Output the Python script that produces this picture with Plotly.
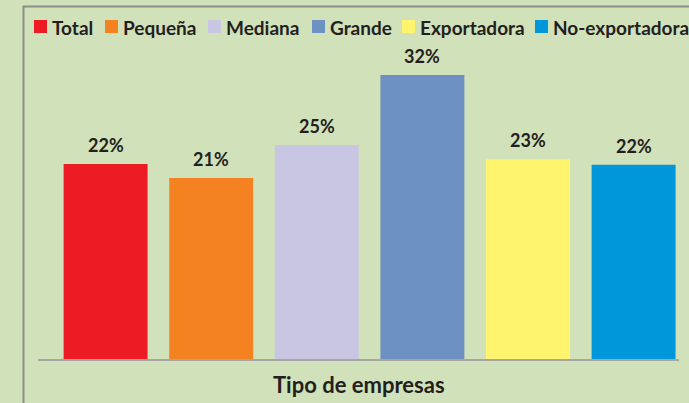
import plotly.graph_objects as go

categories = ["Total", "Pequeña", "Mediana", "Grande", "Exportadora", "No-exportadora"]
values = [21.97, 20.4, 24.1, 32.0, 22.5, 21.9]
value_labels = ["22%", "21%", "25%", "32%", "23%", "22%"]
colors = ["#ED1C24", "#F58220", "#C8C6E2", "#6E91C4", "#FEF46E", "#0096DA"]
x_title = "Tipo de empresas"

W, H = 689, 403
ML, MR, MT, MB = 38, 10, 48, 44
PW, PH = W - ML - MR, H - MT - MB

def px(x):
    return (x - ML) / PW

def py(y):
    return (H - MB - y) / PH

FONT = "Lato"
TXT = "#231F20"

fig = go.Figure()
fig.add_trace(go.Bar(
    x=categories, y=values, marker=dict(color=colors, line=dict(width=0)),
    width=0.795, showlegend=False, hoverinfo="skip",
))

annotations = []
for c, v, t in zip(categories, values, value_labels):
    annotations.append(dict(
        x=c, y=v, xref="x", yref="y", text=t, showarrow=False,
        yanchor="bottom", yshift=6,
        font=dict(family=FONT, size=18, color=TXT, weight="bold"),
    ))

# manual legend (single row, as in the reference)
sq_x = [34, 105, 208, 312, 402, 535]
shapes = []
for c, col, x0 in zip(categories, colors, sq_x):
    shapes.append(dict(type="rect", xref="paper", yref="paper",
                       x0=px(x0), x1=px(x0 + 13), y0=py(33), y1=py(20),
                       fillcolor=col, line=dict(width=0)))
    annotations.append(dict(
        x=px(x0 + 16), y=py(27), xref="paper", yref="paper", text=c,
        showarrow=False, xanchor="left", yanchor="middle",
        font=dict(family=FONT, size=19, color=TXT, weight="bold"),
    ))

# outer frame (cropped box)
shapes.append(dict(type="rect", xref="paper", yref="paper",
                   x0=px(23.5), x1=px(760), y0=py(460), y1=py(6.5),
                   line=dict(color="#8E8E8E", width=2), fillcolor="rgba(0,0,0,0)",
                   layer="below"))

annotations.append(dict(
    x=0.5, y=py(384), xref="paper", yref="paper", text=x_title, showarrow=False,
    xanchor="center", yanchor="middle",
    font=dict(family=FONT, size=22, color=TXT, weight="bold"),
))

fig.update_layout(
    width=W, height=H,
    margin=dict(l=ML, r=MR, t=MT, b=MB, pad=0),
    paper_bgcolor="#D1E1B9", plot_bgcolor="#D1E1B9",
    bargap=0.2,
    xaxis=dict(range=[-0.64, 5.43], showticklabels=False, ticks="",
               showline=True, linecolor="#A6A6A6", linewidth=2, showgrid=False,
               zeroline=False, fixedrange=True),
    yaxis=dict(range=[0, PH / 8.875], visible=False, showgrid=False,
               zeroline=False, fixedrange=True),
    shapes=shapes, annotations=annotations, showlegend=False,
)

fig.write_html(
    "out.html",
    config={"displayModeBar": False, "staticPlot": True},
    post_script="document.body.style.margin='0';document.body.style.background='#D1E1B9';",
)
